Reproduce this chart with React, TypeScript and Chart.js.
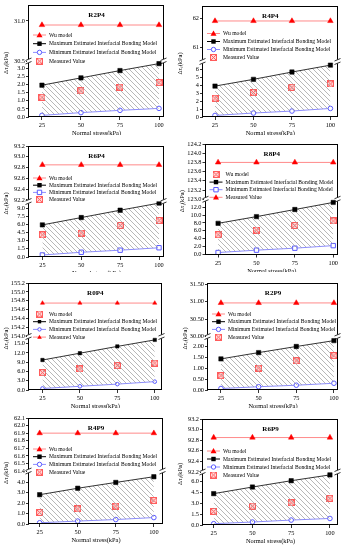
import React, { useEffect, useRef } from 'react';
import { Chart, registerables } from 'chart.js';

Chart.register(...registerables);

const FONT = '"Liberation Serif", "Times New Roman", serif';

// Shared x values / labels
const normalStress = [25, 50, 75, 100];
const xTickValues = [25, 50, 75, 100];
const legendLabels = [
  'Wu model',
  'Maximum Estimated Interfacial Bonding Model',
  'Minimum Estimated Interfacial Bonding Model',
  'Measured Value',
];

// R2P4
const r2p4Wu = [30.95, 30.95, 30.95, 30.95];
const r2p4Max = [1.96, 2.41, 2.86, 3.29];
const r2p4Min = [0.1, 0.27, 0.41, 0.53];
const r2p4Measured = [1.22, 1.61, 1.84, 2.12];
const r2p4UpperTicks = [30.5, 31.0];
const r2p4LowerTicks = [0, 0.5, 1.0, 1.5, 2.0, 2.5, 3.0];

// R4P4
const r4p4Wu = [61.9, 61.9, 61.9, 61.9];
const r4p4Max = [3.9, 4.75, 5.67, 6.54];
const r4p4Min = [0.2, 0.5, 0.75, 1.08];
const r4p4Measured = [2.37, 3.08, 3.75, 4.17];
const r4p4UpperTicks = [61, 62];
const r4p4LowerTicks = [0, 1, 2, 3, 4, 5, 6];

// R6P4
const r6p4Wu = [92.85, 92.85, 92.85, 92.85];
const r6p4Max = [5.9, 7.25, 8.6, 9.9];
const r6p4Min = [0.37, 0.87, 1.25, 1.7];
const r6p4Measured = [4.06, 4.4, 5.8, 6.7];
const r6p4UpperTicks = [92.2, 92.4, 92.6, 92.8, 93.0, 93.2];
const r6p4LowerTicks = [0, 1.5, 3.0, 4.5, 6.0, 7.5, 9.0];

// R8P4
const r8p4Wu = [123.8, 123.8, 123.8, 123.8];
const r8p4Max = [7.9, 9.6, 11.4, 13.2];
const r8p4Min = [0.5, 1.1, 1.6, 2.25];
const r8p4Measured = [5.0, 6.2, 7.35, 8.5];
const r8p4UpperTicks = [123.0, 123.2, 123.4, 123.6, 123.8, 124.0, 124.2];
const r8p4LowerTicks = [0, 2, 4, 6, 8, 10, 12];

// R0P4
const r0p4Wu = [154.75, 154.75, 154.75, 154.75];
const r0p4Max = [9.7, 11.9, 14.1, 16.2];
const r0p4Min = [0.5, 1.2, 1.9, 2.7];
const r0p4Measured = [5.6, 6.8, 7.9, 8.7];
const r0p4UpperTicks = [154.0, 154.2, 154.4, 154.6, 154.8, 155.0, 155.2];
const r0p4LowerTicks = [0, 3, 6, 9, 12, 15];

// R2P9
const r2p9Wu = [30.96, 30.96, 30.96, 30.96];
const r2p9Max = [1.43, 1.72, 2.0, 2.27];
const r2p9Min = [0.07, 0.15, 0.22, 0.31];
const r2p9Measured = [0.66, 1.01, 1.34, 1.58];
const r2p9UpperTicks = [30.0, 30.5, 31.0, 31.5];
const r2p9LowerTicks = [0, 0.5, 1.0, 1.5, 2.0];

// R4P9
const r4p9Wu = [61.9, 61.9, 61.9, 61.9];
const r4p9Max = [2.82, 3.44, 4.0, 4.55];
const r4p9Min = [0.12, 0.28, 0.43, 0.62];
const r4p9Measured = [1.11, 1.45, 1.73, 2.26];
const r4p9UpperTicks = [61.4, 61.5, 61.6, 61.7, 61.8, 61.9, 62.0, 62.1];
const r4p9LowerTicks = [0, 1, 2, 3, 4];

// R6P9
const r6p9Wu = [92.85, 92.85, 92.85, 92.85];
const r6p9Max = [4.32, 5.23, 6.1, 6.9];
const r6p9Min = [0.18, 0.41, 0.68, 0.9];
const r6p9Measured = [1.86, 2.6, 3.05, 3.68];
const r6p9UpperTicks = [92.2, 92.4, 92.6, 92.8, 93.0, 93.2];
const r6p9LowerTicks = [0, 1.5, 3.0, 4.5, 6.0];

interface PanelDef {
  title: string;
  wu: number[];
  max: number[];
  min: number[];
  measured: number[];
  upperTicks: number[];
  lowerTicks: number[];
  upperRange: [number, number];
  lowerRange: [number, number];
  upperDec: number;
  lowerDec: number;
  xRange: [number, number];
  swapLegend: boolean;
  minSquare: boolean;
  small: boolean;
  box: { x: number; y: number; w: number; h: number };
  area: { l: number; r: number; t: number; b: number };
  legendTop: number;
  legendGap: number;
}

const panels: PanelDef[] = [
  {
    title: 'R2P4', wu: r2p4Wu, max: r2p4Max, min: r2p4Min, measured: r2p4Measured,
    upperTicks: r2p4UpperTicks, lowerTicks: r2p4LowerTicks,
    upperRange: [30.5, 31.2], lowerRange: [0, 3.45], upperDec: 1, lowerDec: 1,
    xRange: [16.7, 103.2], swapLegend: false, minSquare: false, small: false,
    box: { x: 0, y: 0, w: 174, h: 135 }, area: { l: 29, r: 164, t: 5, b: 117 },
    legendTop: 30, legendGap: 8.7,
  },
  {
    title: 'R4P4', wu: r4p4Wu, max: r4p4Max, min: r4p4Min, measured: r4p4Measured,
    upperTicks: r4p4UpperTicks, lowerTicks: r4p4LowerTicks,
    upperRange: [60.52, 62.41], lowerRange: [0, 7.0], upperDec: 0, lowerDec: 0,
    xRange: [17.2, 104.6], swapLegend: false, minSquare: false, small: false,
    box: { x: 174, y: 0, w: 174, h: 135 }, area: { l: 29, r: 163.5, t: 6, b: 117 },
    legendTop: 27.5, legendGap: 8,
  },
  {
    title: 'R6P4', wu: r6p4Wu, max: r6p4Max, min: r6p4Min, measured: r6p4Measured,
    upperTicks: r6p4UpperTicks, lowerTicks: r6p4LowerTicks,
    upperRange: [92.17, 93.2], lowerRange: [0, 10.2], upperDec: 1, lowerDec: 1,
    xRange: [16.4, 103.2], swapLegend: false, minSquare: true, small: false,
    box: { x: 0, y: 135, w: 174, h: 137 }, area: { l: 29, r: 164, t: 11, b: 122 },
    legendTop: 32, legendGap: 7.2,
  },
  {
    title: 'R8P4', wu: r8p4Wu, max: r8p4Max, min: r8p4Min, measured: r8p4Measured,
    upperTicks: r8p4UpperTicks, lowerTicks: r8p4LowerTicks,
    upperRange: [123.0, 124.2], lowerRange: [0, 14.0], upperDec: 1, lowerDec: 1,
    xRange: [16.8, 103.1], swapLegend: true, minSquare: true, small: false,
    box: { x: 174, y: 135, w: 174, h: 137 }, area: { l: 31.5, r: 164, t: 9, b: 119.5 },
    legendTop: 30.5, legendGap: 7.6,
  },
  {
    title: 'R0P4', wu: r0p4Wu, max: r0p4Max, min: r0p4Min, measured: r0p4Measured,
    upperTicks: r0p4UpperTicks, lowerTicks: r0p4LowerTicks,
    upperRange: [154.0, 155.2], lowerRange: [0, 17.3], upperDec: 1, lowerDec: 1,
    xRange: [16, 104.5], swapLegend: true, minSquare: false, small: true,
    box: { x: 0, y: 272, w: 174, h: 136 }, area: { l: 29, r: 161.5, t: 11, b: 118 },
    legendTop: 31, legendGap: 7.7,
  },
  {
    title: 'R2P9', wu: r2p9Wu, max: r2p9Max, min: r2p9Min, measured: r2p9Measured,
    upperTicks: r2p9UpperTicks, lowerTicks: r2p9LowerTicks,
    upperRange: [30.0, 31.53], lowerRange: [0, 2.46], upperDec: 2, lowerDec: 2,
    xRange: [16.4, 102.7], swapLegend: false, minSquare: false, small: false,
    box: { x: 174, y: 272, w: 174, h: 136 }, area: { l: 34, r: 164, t: 11, b: 118 },
    legendTop: 31, legendGap: 7.7,
  },
  {
    title: 'R4P9', wu: r4p9Wu, max: r4p9Max, min: r4p9Min, measured: r4p9Measured,
    upperTicks: r4p9UpperTicks, lowerTicks: r4p9LowerTicks,
    upperRange: [61.4, 62.1], lowerRange: [0, 5.1], upperDec: 1, lowerDec: 1,
    xRange: [18, 106], swapLegend: false, minSquare: false, small: false,
    box: { x: 0, y: 408, w: 174, h: 142 }, area: { l: 29, r: 163, t: 10, b: 116 },
    legendTop: 31, legendGap: 7.7,
  },
  {
    title: 'R6P9', wu: r6p9Wu, max: r6p9Max, min: r6p9Min, measured: r6p9Measured,
    upperTicks: r6p9UpperTicks, lowerTicks: r6p9LowerTicks,
    upperRange: [92.2, 93.2], lowerRange: [0, 7.3], upperDec: 1, lowerDec: 1,
    xRange: [18.1, 105.2], swapLegend: false, minSquare: false, small: false,
    box: { x: 174, y: 408, w: 174, h: 142 }, area: { l: 29, r: 164, t: 11, b: 117 },
    legendTop: 32, legendGap: 8,
  },
];

const WU_LINE = '#ff8a8a';
const WU_MARK = '#ff0000';
const MIN_LINE = '#8c8cff';
const MIN_MARK = '#5a5aff';

let measuredImg: HTMLCanvasElement | null = null;
function getMeasuredImg(): HTMLCanvasElement {
  if (measuredImg) return measuredImg;
  const c = document.createElement('canvas');
  c.width = 7;
  c.height = 7;
  const g = c.getContext('2d')!;
  g.fillStyle = '#ffd9d9';
  g.fillRect(0, 0, 7, 7);
  g.strokeStyle = '#ff5c5c';
  g.lineWidth = 1;
  g.strokeRect(0.5, 0.5, 6, 6);
  g.beginPath();
  g.moveTo(1, 1);
  g.lineTo(6, 6);
  g.moveTo(6, 1);
  g.lineTo(1, 6);
  g.stroke();
  measuredImg = c;
  return c;
}

function makeHatch(ctx: CanvasRenderingContext2D): CanvasPattern | string {
  const c = document.createElement('canvas');
  c.width = 5;
  c.height = 5;
  const g = c.getContext('2d')!;
  g.strokeStyle = '#9a9a9a';
  g.lineWidth = 0.7;
  g.beginPath();
  g.moveTo(-1, -1);
  g.lineTo(6, 6);
  g.moveTo(-1, 4);
  g.lineTo(1, 6);
  g.moveTo(4, -1);
  g.lineTo(6, 1);
  g.stroke();
  return ctx.createPattern(c, 'repeat') || '#ddd';
}

type Kind = 'wu' | 'max' | 'min' | 'meas';

function drawLegendMarker(ctx: CanvasRenderingContext2D, kind: Kind, x: number, y: number, p: PanelDef) {
  ctx.save();
  if (kind === 'wu') {
    ctx.fillStyle = WU_MARK;
    const s = p.small ? 2.3 : 3;
    ctx.beginPath();
    ctx.moveTo(x, y - s);
    ctx.lineTo(x + s, y + s * 0.75);
    ctx.lineTo(x - s, y + s * 0.75);
    ctx.closePath();
    ctx.fill();
  } else if (kind === 'max') {
    ctx.fillStyle = '#000';
    const s = p.small ? 1.7 : 2.2;
    ctx.fillRect(x - s, y - s, 2 * s, 2 * s);
  } else if (kind === 'min') {
    ctx.strokeStyle = MIN_MARK;
    ctx.fillStyle = '#fff';
    ctx.lineWidth = 1;
    ctx.beginPath();
    if (p.minSquare) ctx.rect(x - 2.2, y - 2.2, 4.4, 4.4);
    else ctx.arc(x, y, p.small ? 1.7 : 2.2, 0, Math.PI * 2);
    ctx.fill();
    ctx.stroke();
  } else {
    ctx.drawImage(getMeasuredImg(), x - 3.5, y - 3.5);
  }
  ctx.restore();
}

function decorPlugin(p: PanelDef) {
  return {
    id: 'decor',
    afterDraw(chart: any) {
      const ctx: CanvasRenderingContext2D = chart.ctx;
      const a = chart.chartArea;
      const brk = chart.scales.yU.bottom;
      ctx.save();
      // frame
      ctx.strokeStyle = '#000';
      ctx.lineWidth = 1;
      ctx.strokeRect(Math.round(a.left) - 0.5, Math.round(a.top) + 0.5, Math.round(a.right) - Math.round(a.left), Math.round(a.bottom) - Math.round(a.top) - 1);
      // break marks
      const mark = (x: number) => {
        ctx.fillStyle = '#fff';
        ctx.fillRect(x - 1.5, brk - 2, 3, 4);
        ctx.strokeStyle = '#000';
        ctx.lineWidth = 0.8;
        ctx.beginPath();
        ctx.moveTo(x - 3, brk - 0.5);
        ctx.lineTo(x + 3, brk - 3);
        ctx.moveTo(x - 3, brk + 3);
        ctx.lineTo(x + 3, brk + 0.5);
        ctx.stroke();
      };
      mark(Math.round(a.left) - 0.5);
      mark(Math.round(a.right) - 0.5);

      // title
      ctx.fillStyle = '#000';
      ctx.font = `bold 7px ${FONT}`;
      ctx.textAlign = 'center';
      ctx.textBaseline = 'middle';
      const cx = (a.left + a.right) / 2;
      ctx.fillText(p.title, cx, a.top + 10);

      // x title
      ctx.font = `6.4px ${FONT}`;
      ctx.fillText('Normal stress(kPa)', cx, a.bottom + 16.5);

      // y title with subscript
      ctx.save();
      const ty = (a.top + a.bottom) / 2 + 2;
      ctx.translate(a.left - 23, ty);
      ctx.rotate(-Math.PI / 2);
      ctx.textAlign = 'left';
      ctx.font = `6.4px ${FONT}`;
      const w1 = ctx.measureText('Δτ').width;
      const w3 = ctx.measureText('(kPa)').width;
      ctx.font = `4.6px ${FONT}`;
      const w2 = ctx.measureText('f').width;
      let sx = -(w1 + w2 + w3) / 2;
      ctx.font = `6.4px ${FONT}`;
      ctx.fillText('Δτ', sx, 0);
      sx += w1;
      ctx.font = `4.6px ${FONT}`;
      ctx.fillText('f', sx, 1.8);
      sx += w2;
      ctx.font = `6.4px ${FONT}`;
      ctx.fillText('(kPa)', sx, 0);
      ctx.restore();

      // legend
      const kinds: Kind[] = p.swapLegend ? ['meas', 'max', 'min', 'wu'] : ['wu', 'max', 'min', 'meas'];
      ctx.font = `5.6px ${FONT}`;
      ctx.textAlign = 'left';
      ctx.textBaseline = 'middle';
      const lx0 = a.left + 4;
      const lx1 = a.left + 17;
      const mx = (lx0 + lx1) / 2;
      for (let i = 0; i < 4; i++) {
        const y = a.top + p.legendTop + i * p.legendGap;
        const k = kinds[i];
        if (k !== 'meas') {
          ctx.strokeStyle = k === 'wu' ? WU_LINE : k === 'max' ? '#000' : MIN_LINE;
          ctx.lineWidth = 1;
          ctx.beginPath();
          ctx.moveTo(lx0, y);
          ctx.lineTo(lx1, y);
          ctx.stroke();
        }
        drawLegendMarker(ctx, k, mx, y, p);
        ctx.fillStyle = '#000';
        ctx.fillText(legendLabels[i], a.left + 20, y + 0.3);
      }
      ctx.restore();
    },
  };
}

function toPoints(vals: number[]) {
  return normalStress.map((x, i) => ({ x, y: vals[i] }));
}

function buildConfig(p: PanelDef, hatch: CanvasPattern | string): any {
  const tickFont = { family: FONT, size: 6.3 };
  const yCommon = (ticksArr: number[], range: [number, number], dec: number) => ({
    type: 'linear',
    position: 'left',
    stack: 'v',
    stackWeight: 1,
    min: range[0],
    max: range[1],
    afterBuildTicks: (s: any) => {
      s.ticks = ticksArr.map((v) => ({ value: v }));
    },
    afterFit: (s: any) => {
      s.width = p.area.l;
    },
    grid: { display: true, drawOnChartArea: false, drawTicks: true, tickLength: 3, color: '#000', lineWidth: 0.8 },
    border: { display: false },
    ticks: {
      autoSkip: false,
      font: tickFont,
      color: '#000',
      padding: 1,
      callback: (v: any) => Number(v).toFixed(dec),
    },
  });
  return {
    type: 'line',
    data: {
      datasets: [
        {
          label: 'wu',
          data: toPoints(p.wu),
          yAxisID: 'yU',
          borderColor: WU_LINE,
          borderWidth: 1,
          pointStyle: 'triangle',
          pointRadius: p.small ? 2.4 : 3.2,
          pointBackgroundColor: WU_MARK,
          pointBorderColor: WU_MARK,
          pointBorderWidth: 0.5,
          fill: false,
        },
        {
          label: 'max',
          data: toPoints(p.max),
          yAxisID: 'yL',
          borderColor: '#000',
          borderWidth: 0.8,
          pointStyle: 'rect',
          pointRadius: p.small ? 2.4 : 3.1,
          pointBackgroundColor: '#000',
          pointBorderColor: '#000',
          pointBorderWidth: 0.5,
          fill: { target: 2 },
          backgroundColor: hatch,
        },
        {
          label: 'min',
          data: toPoints(p.min),
          yAxisID: 'yL',
          borderColor: MIN_LINE,
          borderWidth: 1,
          pointStyle: p.minSquare ? 'rect' : 'circle',
          pointRadius: p.minSquare ? 3.1 : p.small ? 1.8 : 2.3,
          pointBackgroundColor: '#fff',
          pointBorderColor: MIN_MARK,
          pointBorderWidth: 1,
          fill: false,
        },
        {
          label: 'measured',
          data: toPoints(p.measured),
          yAxisID: 'yL',
          showLine: false,
          pointStyle: getMeasuredImg(),
          pointRadius: 3.5,
          fill: false,
        },
      ],
    },
    options: {
      responsive: false,
      maintainAspectRatio: false,
      animation: false,
      events: [],
      layout: { padding: { left: 0, top: p.area.t, right: p.box.w - p.area.r, bottom: 0 } },
      plugins: { legend: { display: false }, tooltip: { enabled: false }, title: { display: false } },
      scales: {
        x: {
          type: 'linear',
          position: 'bottom',
          min: p.xRange[0],
          max: p.xRange[1],
          afterBuildTicks: (s: any) => {
            s.ticks = xTickValues.map((v) => ({ value: v }));
          },
          afterFit: (s: any) => {
            s.height = p.box.h - p.area.b;
          },
          grid: { display: true, drawOnChartArea: false, drawTicks: true, tickLength: 3, color: '#000', lineWidth: 0.8 },
          border: { display: false },
          ticks: { font: tickFont, color: '#000', padding: 2, maxRotation: 0, autoSkip: false, callback: (v: any) => String(v) },
        },
        yL: yCommon(p.lowerTicks, p.lowerRange, p.lowerDec),
        yU: yCommon(p.upperTicks, p.upperRange, p.upperDec),
      },
    },
    plugins: [decorPlugin(p)],
  };
}

function Panel({ p }: { p: PanelDef }) {
  const ref = useRef<HTMLCanvasElement>(null);
  useEffect(() => {
    const canvas = ref.current!;
    const ctx = canvas.getContext('2d')!;
    const hatch = makeHatch(ctx);
    const chart = new Chart(canvas, buildConfig(p, hatch));
    return () => chart.destroy();
  }, []);
  return (
    <canvas
      ref={ref}
      width={p.box.w}
      height={p.box.h}
      style={{ position: 'absolute', left: p.box.x, top: p.box.y, width: p.box.w, height: p.box.h }}
    />
  );
}

export default function App() {
  return (
    <div style={{ position: 'fixed', left: 0, top: 0, width: 348, height: 550, background: '#fff', overflow: 'hidden' }}>
      {panels.map((p) => (
        <Panel key={p.title} p={p} />
      ))}
    </div>
  );
}
